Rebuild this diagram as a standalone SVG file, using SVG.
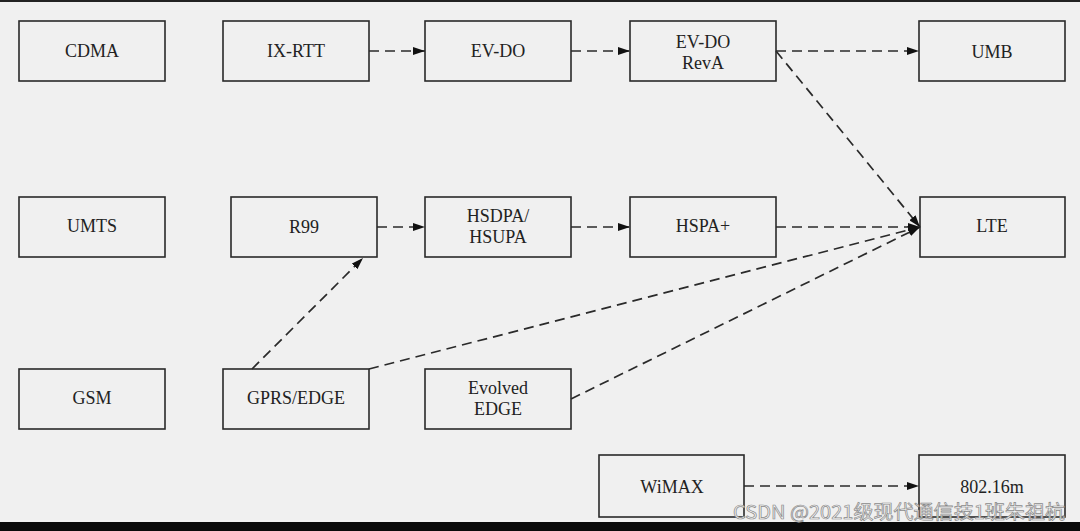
<svg xmlns="http://www.w3.org/2000/svg" width="1080" height="531" viewBox="0 0 1080 531">
<style>
.box rect{fill:none;stroke:#2a2a2a;stroke-width:1.6}
.box text{font-family:"Liberation Serif",serif;font-size:18px;fill:#222;text-anchor:middle}
.conn line{stroke:#2a2a2a;stroke-width:1.7;stroke-dasharray:10,6;fill:none}
.wm{font-family:"Noto Sans CJK SC","Liberation Sans",sans-serif;font-size:19px;fill:#f4f4f4;stroke:#8a8a8a;stroke-width:0.7}
</style>
<defs>
<marker id="ah" viewBox="0 0 12 8" refX="12" refY="4" markerWidth="12" markerHeight="8" markerUnits="userSpaceOnUse" orient="auto">
<path d="M0,0 L12,4 L0,8 Z" fill="#111"/>
</marker>
</defs>
<rect x="0" y="0" width="1080" height="531" fill="#f0f0f0"/>
<rect x="0" y="0" width="1080" height="2" fill="#222"/>
<rect x="0" y="522" width="1080" height="9" fill="#0a0a0a"/>
<g class="box" id="cdma"><rect x="19" y="21" width="146" height="60"/><text x="92" y="57">CDMA</text></g>
<g class="box" id="ixrtt"><rect x="223" y="21" width="146" height="60"/><text x="296" y="57">IX-RTT</text></g>
<g class="box" id="evdo"><rect x="425" y="21" width="146" height="60"/><text x="498" y="57">EV-DO</text></g>
<g class="box" id="reva"><rect x="630" y="21" width="146" height="60"/><text x="703" y="48">EV-DO</text><text x="703" y="69">RevA</text></g>
<g class="box" id="umb"><rect x="919" y="21" width="146" height="60"/><text x="992" y="58">UMB</text></g>
<g class="box" id="umts"><rect x="19" y="197" width="146" height="60"/><text x="92" y="232">UMTS</text></g>
<g class="box" id="r99"><rect x="231" y="197" width="146" height="60"/><text x="304" y="233">R99</text></g>
<g class="box" id="hsdpa"><rect x="425" y="197" width="146" height="60"/><text x="498" y="222">HSDPA/</text><text x="498" y="243">HSUPA</text></g>
<g class="box" id="hspa"><rect x="630" y="197" width="146" height="60"/><text x="703" y="232">HSPA+</text></g>
<g class="box" id="lte"><rect x="920" y="197" width="145" height="60"/><text x="992" y="232">LTE</text></g>
<g class="box" id="gsm"><rect x="19" y="369" width="146" height="60"/><text x="92" y="404">GSM</text></g>
<g class="box" id="gprs"><rect x="223" y="369" width="146" height="60"/><text x="296" y="404">GPRS/EDGE</text></g>
<g class="box" id="eedge"><rect x="425" y="369" width="146" height="60"/><text x="498" y="394">Evolved</text><text x="498" y="415">EDGE</text></g>
<g class="box" id="wimax"><rect x="599" y="455" width="145" height="62"/><text x="672" y="493">WiMAX</text></g>
<g class="box" id="m80216"><rect x="919" y="455" width="146" height="62"/><text x="992" y="493">802.16m</text></g>
<g class="conn" id="connectors">
<line x1="369" y1="51" x2="425" y2="51" marker-end="url(#ah)"/>
<line x1="571" y1="51" x2="630" y2="51" marker-end="url(#ah)"/>
<line x1="776" y1="51" x2="919" y2="51" marker-end="url(#ah)"/>
<line x1="776" y1="51" x2="920" y2="227" marker-end="url(#ah)"/>
<line x1="377" y1="227" x2="425" y2="227" marker-end="url(#ah)"/>
<line x1="571" y1="227" x2="630" y2="227" marker-end="url(#ah)"/>
<line x1="776" y1="227" x2="920" y2="227" marker-end="url(#ah)"/>
<line x1="252" y1="369" x2="363" y2="258" marker-end="url(#ah)"/>
<line x1="369" y1="369" x2="920" y2="227" marker-end="url(#ah)"/>
<line x1="571" y1="399" x2="920" y2="227" marker-end="url(#ah)"/>
<line x1="744" y1="486" x2="919" y2="486" marker-end="url(#ah)"/>
</g>
<text class="wm" x="733" y="519" textLength="332" lengthAdjust="spacingAndGlyphs">CSDN @2021级现代通信技1班朱祖杭</text>
</svg>
